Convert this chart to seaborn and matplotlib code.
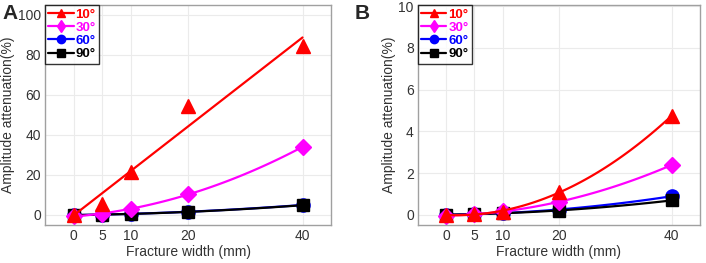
import numpy as np
import pandas as pd
import matplotlib
matplotlib.use('Agg')
import matplotlib.pyplot as plt
import seaborn as sns
from matplotlib.lines import Line2D

# Data
widths = [0, 5, 10, 20, 40]
angles = ['10°', '30°', '60°', '90°']

# Panel A
a_10 = [0, 5.5, 21.5, 54.5, 84.5]
a_30 = [-0.5, 0.5, 3.0, 10.5, 34.0]
a_60 = [0, 0.2, 0.5, 1.7, 5.0]
a_90 = [0, 0.2, 0.5, 1.6, 4.9]

# Panel B
b_10 = [0, 0.05, 0.15, 1.1, 4.75]
b_30 = [-0.05, 0.05, 0.2, 0.6, 2.4]
b_60 = [0, 0.05, 0.1, 0.25, 0.9]
b_90 = [0, 0.05, 0.1, 0.2, 0.7]

colors = {'10°': '#ff0000', '30°': '#ff00ff', '60°': '#0000ff', '90°': '#000000'}
markers = {'10°': '^', '30°': 'D', '60°': 'o', '90°': 's'}
msizes = {'10°': 10, '30°': 8, '60°': 9.5, '90°': 8}

sns.set_theme(style='whitegrid')
plt.rcParams['font.family'] = ['Liberation Sans', 'DejaVu Sans']

fig = plt.figure(figsize=(7.06, 2.63), dpi=100)
axA = fig.add_axes([0.064, 0.1445, 0.405, 0.8365])
axB = fig.add_axes([0.592, 0.1445, 0.3995, 0.8365])


def draw_panel(ax, series, orders, ylim, yticks):
    # draw order: 60, 90, 30, 10 (red on top)
    for ang in ['60°', '90°', '30°', '10°']:
        y = series[ang]
        df = pd.DataFrame({'w': widths, 'v': y})
        sns.regplot(data=df, x='w', y='v', order=orders[ang], ci=None,
                    scatter=False, ax=ax,
                    line_kws={'color': colors[ang], 'lw': 1.6})
        ax.plot(widths, y, linestyle='none', marker=markers[ang],
                ms=msizes[ang], color=colors[ang], mec=colors[ang])
    ax.set_xlim(-5, 45)
    ax.set_ylim(*ylim)
    ax.set_xticks(widths)
    ax.set_yticks(yticks)
    ax.tick_params(axis='both', labelsize=10, colors='#333333', length=0, pad=3)
    ax.set_xlabel('Fracture width (mm)', fontsize=10, color='#333333', labelpad=1)
    ax.set_ylabel('Amplitude attenuation(%)', fontsize=10, color='#333333', labelpad=2)
    ax.grid(True, color='#ebebeb', lw=0.8)
    for sp in ax.spines.values():
        sp.set_color('#a0a0a0')
        sp.set_linewidth(1.0)

    handles = [Line2D([0], [0], color=colors[a], lw=1.6,
                      marker=('d' if a == '30°' else markers[a]), ms=6,
                      mec=colors[a]) for a in angles]
    leg = ax.legend(handles, angles, loc='upper left', fontsize=9.5,
                    frameon=True, fancybox=False, handlelength=1.9,
                    handletextpad=0.15, borderpad=0.25, labelspacing=0.08,
                    borderaxespad=0.0)
    leg.get_frame().set_edgecolor('black')
    leg.get_frame().set_linewidth(1.0)
    for txt, a in zip(leg.get_texts(), angles):
        txt.set_color(colors[a])
        txt.set_fontweight('bold')


draw_panel(axA, {'10°': a_10, '30°': a_30, '60°': a_60, '90°': a_90},
           {'10°': 1, '30°': 2, '60°': 2, '90°': 2},
           (-5, 105), [0, 20, 40, 60, 80, 100])
draw_panel(axB, {'10°': b_10, '30°': b_30, '60°': b_60, '90°': b_90},
           {'10°': 2, '30°': 2, '60°': 2, '90°': 2},
           (-0.48, 10.05), [0, 2, 4, 6, 8, 10])

fig.text(0.003, 0.985, 'A', fontsize=15, fontweight='bold', va='top', ha='left')
fig.text(0.503, 0.985, 'B', fontsize=15, fontweight='bold', va='top', ha='left')

fig.savefig('out.png', dpi=100)
